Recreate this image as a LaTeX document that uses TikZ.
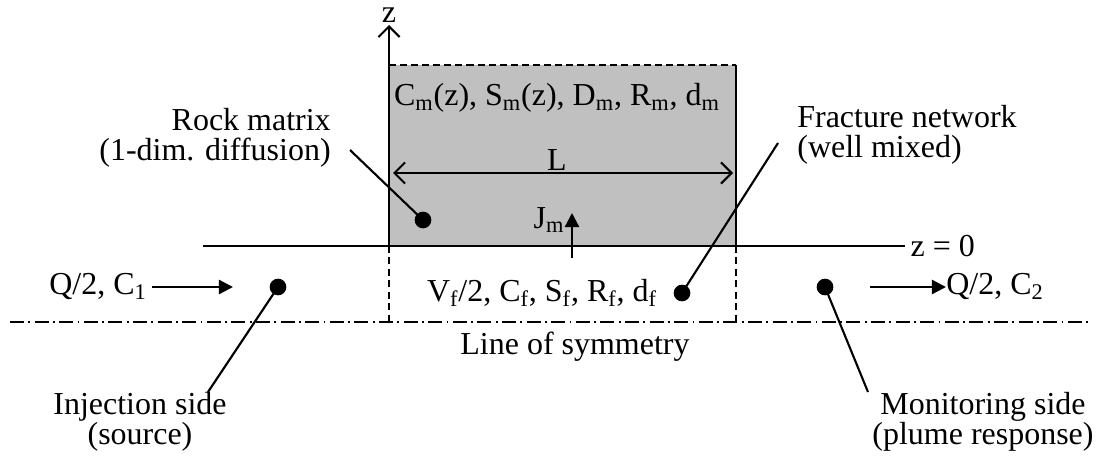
\documentclass[tikz,border=0pt]{standalone}
\usepackage{fontspec}
\setmainfont{Liberation Serif}
\usetikzlibrary{arrows.meta, positioning}
\definecolor{matrixgray}{RGB}{192, 192, 192}

\begin{document}
\begin{tikzpicture}[
  x=0.02cm, y=-0.02cm,
  lbl/.style={inner sep=0pt, font=\fontsize{18.2}{16.8}\selectfont},
  wdot/.style={circle, fill, inner sep=0pt, minimum size=9.5pt},
  flow/.style={line width=1.3pt, -{Triangle[length=8pt, width=8pt]}},
  lead/.style={line width=1.2pt},
  edge/.style={line width=1.2pt}
]
  \useasboundingbox (0,0) rectangle (1101,463);

  % rock matrix block
  \fill[matrixgray] (389,65) rectangle (736,246);
  \draw[edge, dash pattern=on 4pt off 2.3pt] (389,65) -- (736,65);
  \draw[edge] (736,65) -- (736,246);
  \draw[edge, dash pattern=on 4pt off 2.5pt] (389,246) -- (389,323) (736,246) -- (736,323);

  % z axis and z = 0
  \coordinate (zbot) at (389,246);
  \coordinate (ztop) at (389,25);
  \draw[edge, -{Straight Barb[length=6pt, width=12pt]}] (zbot) -- (ztop);
  \node[lbl, above=1pt of ztop] (zlbl) {z};
  \coordinate (zl) at (203,246);
  \coordinate (zr) at (905,246);
  \draw[line width=0.9pt] (zl) -- (zr);
  \node[lbl, right=3pt of zr] (zzero) {z = 0};

  % matrix parameters
  \node[lbl] (mparams) at (557,98) {C\textsubscript{m}(z), S\textsubscript{m}(z), D\textsubscript{m}, R\textsubscript{m}, d\textsubscript{m}};
  \coordinate (Lleft) at (393,173);
  \coordinate (Lright) at (733,173);
  \draw[edge, {Straight Barb[length=6pt, width=12pt]}-{Straight Barb[length=6pt, width=12pt]}] (Lleft) -- (Lright);
  \node[lbl] (Llbl) at (557,160) {L};
  \coordinate (jbot) at (572,258);
  \coordinate (jtop) at (572,213);
  \draw[flow] (jbot) -- (jtop);
  \node[lbl] (jm) at (549,220) {J\textsubscript{m}};

  % fracture
  \node[lbl] (fparams) at (542,293) {V\textsubscript{f}/2, C\textsubscript{f}, S\textsubscript{f}, R\textsubscript{f}, d\textsubscript{f}};
  \node[lbl] (qin) at (98,287) {Q/2, C\textsubscript{1}};
  \coordinate (inarrow) at (233,287);
  \draw[flow] ([xshift=3pt]qin.east) -- (inarrow);
  \node[lbl, anchor=west] (qout) at (946,287) {Q/2, C\textsubscript{2}};
  \coordinate (outstart) at (870,287);
  \draw[flow] (outstart) -- (qout.west);

  % dots and leaders
  \node[wdot] (rockdot) at (423,220) {};
  \node[wdot] (fracdot) at (682,293) {};
  \node[wdot] (injdot) at (278,287) {};
  \node[wdot] (mondot) at (825,287) {};
  \coordinate (rockend) at (350,150);
  \coordinate (fracend) at (778,143);
  \coordinate (injend) at (208,392);
  \coordinate (monend) at (868,392);
  \draw[lead] (rockdot.center) -- (rockend);
  \draw[lead] (fracdot.center) -- (fracend);
  \draw[lead] (injdot.center) -- (injend);
  \draw[lead] (mondot.center) -- (monend);
  \node[lbl, align=right, anchor=east] (rocklbl) at (331,138) {Rock matrix\\(1-dim. diffusion)};
  \node[lbl, align=left, anchor=west] (fraclbl) at (797,135) {Fracture network\\(well mixed)};
  \node[lbl, align=center] (injlbl) at (140,422) {Injection side\\(source)};
  \node[lbl, align=center] (monlbl) at (983,422) {Monitoring side\\(plume response)};

  % symmetry
  \coordinate (symL) at (10,322);
  \coordinate (symR) at (1092,322);
  \draw[line width=1pt, dash pattern=on 8pt off 2.5pt on 1pt off 2.5pt] (symL) -- (symR);
  \node[lbl] (symlbl) at (575,347) {Line of symmetry};
\end{tikzpicture}
\end{document}
